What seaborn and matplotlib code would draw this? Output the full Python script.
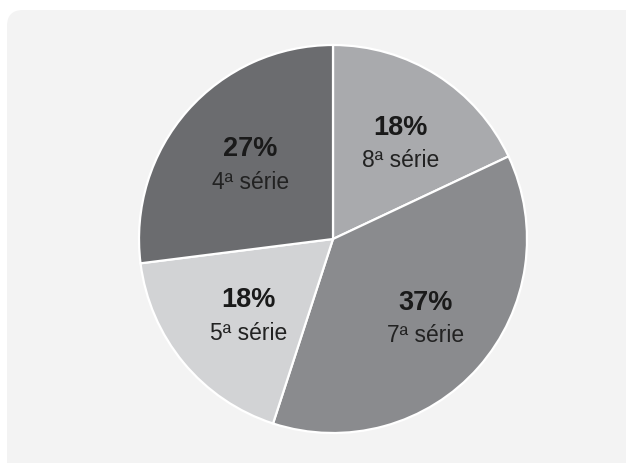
import numpy as np
import matplotlib
matplotlib.use("Agg")
import matplotlib.pyplot as plt
from matplotlib.patches import FancyBboxPatch
import seaborn as sns

series = ["8ª série", "7ª série", "5ª série", "4ª série"]
percents = [18, 37, 18, 27]
colors = ["#a9aaad", "#8a8b8e", "#d2d3d5", "#6b6c6f"]

sns.set_theme(style="white")
plt.rcParams['font.family'] = ['Liberation Sans', 'DejaVu Sans']

W, H = 626, 463
fig = plt.figure(figsize=(W / 100, H / 100), dpi=100)
fig.patch.set_facecolor("white")
ax = fig.add_axes([0, 0, 1, 1])

# background panel
panel = FancyBboxPatch((7, -20), 660, (H - 10) + 20,
                       boxstyle="round,pad=0,rounding_size=16",
                       facecolor="#f3f3f3", edgecolor="none", zorder=0)
ax.add_patch(panel)

cx, cy, R = 333, H - 239, 194
wedges, _ = ax.pie(percents, colors=colors, startangle=90, counterclock=False,
                   center=(cx, cy), radius=R, frame=True,
                   wedgeprops=dict(edgecolor="white", linewidth=1.6))
for w in wedges:
    w.set_zorder(2)
ax.set_xlim(0, W)
ax.set_ylim(0, H)
ax.set_aspect("equal")
ax.axis("off")

for w, p, s in zip(wedges, percents, series):
    mid = np.deg2rad((w.theta1 + w.theta2) / 2)
    x = cx + 0.6 * R * np.cos(mid) + 5
    y = cy + 0.6 * R * np.sin(mid) - 3
    ax.text(x, y + 16, f"{p}%", ha="center", va="center", fontsize=19.5,
            fontweight="bold", color="#1a1a1a", zorder=3)
    ax.text(x, y - 17, s, ha="center", va="center", fontsize=16.5,
            color="#222222", zorder=3)

fig.savefig("out.png", dpi=100, facecolor="white")
